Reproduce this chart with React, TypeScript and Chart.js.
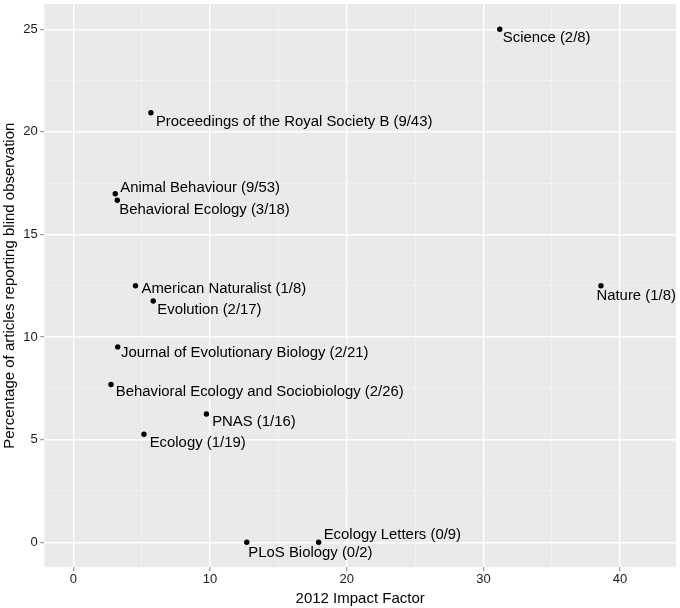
import React, { useRef, useEffect } from 'react';
import { Chart, registerables } from 'chart.js';

Chart.register(...registerables);

const journals = [
  'Science', 'Nature', 'Proceedings of the Royal Society B', 'Animal Behaviour',
  'Behavioral Ecology', 'American Naturalist', 'Evolution', 'Journal of Evolutionary Biology',
  'Behavioral Ecology and Sociobiology', 'PNAS', 'Ecology', 'PLoS Biology', 'Ecology Letters',
];
const counts = ['2/8', '1/8', '9/43', '9/53', '3/18', '1/8', '2/17', '2/21', '2/26', '1/16', '1/19', '0/2', '0/9'];
const impactFactor = [31.2, 38.6, 5.68, 3.07, 3.22, 4.55, 5.85, 3.25, 2.76, 9.74, 5.17, 12.69, 17.95];
const percentBlind = [25.0, 12.5, 20.93, 16.98, 16.67, 12.5, 11.76, 9.52, 7.69, 6.25, 5.26, 0, 0];

const xTicks = [0, 5, 10, 15, 20, 25, 30, 35, 40];
const yTicks = [0, 2.5, 5, 7.5, 10, 12.5, 15, 17.5, 20, 22.5, 25];

// label offsets from the point, in px (text baseline-left)
const labelOffsets: [number, number][] = [
  [3, 12.5], [-4.5, 14.3], [5, 13.4], [5, -1.5], [2, 13.6], [6, 7], [4, 12.6],
  [3.3, 10.5], [4.7, 12], [5.7, 12.4], [5.7, 12.4], [1.6, 14.4], [5, -3.3],
];

const FONT = '"Liberation Sans", Arial, sans-serif';
const PANEL_BG = '#EAEAEA';

const panelBackground = {
  id: 'panelBackground',
  beforeDraw(chart: any) {
    const { ctx, chartArea } = chart;
    ctx.save();
    ctx.fillStyle = PANEL_BG;
    ctx.fillRect(chartArea.left, chartArea.top, chartArea.right - chartArea.left, chartArea.bottom - chartArea.top);
    ctx.restore();
  },
};

const pointLabels = {
  id: 'pointLabels',
  afterDatasetsDraw(chart: any) {
    const { ctx } = chart;
    const meta = chart.getDatasetMeta(0);
    ctx.save();
    ctx.font = `14.9px ${FONT}`;
    ctx.fillStyle = '#000';
    ctx.textAlign = 'left';
    ctx.textBaseline = 'alphabetic';
    meta.data.forEach((el: any, i: number) => {
      const [dx, dy] = labelOffsets[i];
      ctx.fillText(`${journals[i]} (${counts[i]})`, el.x + dx, el.y + dy);
    });
    ctx.restore();
  },
};

const isMajorX = (v: number) => v % 10 === 0;
const isMajorY = (v: number) => v % 5 === 0;

const App = () => {
  const canvasRef = useRef<any>(null);
  const chartRef = useRef<any>(null);

  useEffect(() => {
    if (canvasRef.current) {
      const ctx = canvasRef.current.getContext('2d');
      if (chartRef.current) {
        chartRef.current.destroy();
      }
      chartRef.current = new Chart(ctx, {
        type: 'scatter',
        data: {
          datasets: [{
            data: impactFactor.map((x, i) => ({ x, y: percentBlind[i] })),
            backgroundColor: '#000',
            borderWidth: 0,
            pointRadius: 2.7,
            pointHoverRadius: 2.7,
          }],
        },
        options: {
          responsive: false,
          animation: false,
          devicePixelRatio: 1,
          layout: { padding: { left: 0, top: 4, right: 4, bottom: 0 } },
          plugins: { legend: { display: false }, tooltip: { enabled: false } },
          scales: {
            x: {
              type: 'linear',
              min: -2.12,
              max: 44.09,
              afterBuildTicks: (scale: any) => { scale.ticks = xTicks.map(v => ({ value: v })); },
              afterFit: (scale: any) => {
                scale.height = 40.7;
                scale.paddingLeft = 0;
                scale.paddingRight = 0;
              },
              border: { display: false },
              grid: {
                color: (c: any) => (c.tick && isMajorX(c.tick.value) ? '#FFFFFF' : '#F4F4F4'),
                lineWidth: (c: any) => (c.tick && isMajorX(c.tick.value) ? 1.4 : 0.7),
                tickColor: (c: any) => (c.tick && isMajorX(c.tick.value) ? '#7F7F7F' : 'rgba(0,0,0,0)'),
                tickWidth: 1,
                tickLength: 4,
              },
              ticks: {
                autoSkip: false,
                maxRotation: 0,
                padding: 0.5,
                color: '#1a1a1a',
                font: { family: FONT, size: 13 },
                callback: (v: any) => (isMajorX(Number(v)) ? String(v) : ''),
              },
              title: {
                display: true,
                text: '2012 Impact Factor',
                color: '#000',
                font: { family: FONT, size: 15, lineHeight: 1.2 },
                padding: { top: 4.5, bottom: 0 },
              },
            },
            y: {
              type: 'linear',
              min: -1.22,
              max: 26.23,
              afterBuildTicks: (scale: any) => { scale.ticks = yTicks.map(v => ({ value: v })); },
              afterFit: (scale: any) => {
                scale.width = 44.3;
                scale.paddingTop = 0;
                scale.paddingBottom = 0;
              },
              border: { display: false },
              grid: {
                color: (c: any) => (c.tick && isMajorY(c.tick.value) ? '#FFFFFF' : '#F4F4F4'),
                lineWidth: (c: any) => (c.tick && isMajorY(c.tick.value) ? 1.4 : 0.7),
                tickColor: (c: any) => (c.tick && isMajorY(c.tick.value) ? '#7F7F7F' : 'rgba(0,0,0,0)'),
                tickWidth: 1,
                tickLength: 4,
              },
              ticks: {
                autoSkip: false,
                padding: 2.5,
                color: '#1a1a1a',
                font: { family: FONT, size: 13 },
                callback: (v: any) => (isMajorY(Number(v)) ? String(v) : ''),
              },
              title: {
                display: true,
                text: 'Percentage of articles reporting blind observation',
                color: '#000',
                font: { family: FONT, size: 15, lineHeight: 1.2 },
                padding: { top: 0.5, bottom: 0 },
              },
            },
          },
        },
        plugins: [panelBackground, pointLabels],
      });
    }
    return () => {
      if (chartRef.current) {
        chartRef.current.destroy();
        chartRef.current = null;
      }
    };
  }, []);

  return (
    <div style={{ position: 'absolute', left: 0, top: 0, width: 680, height: 608, background: '#fff' }}>
      <canvas ref={canvasRef} width={680} height={608} style={{ width: '680px', height: '608px' }} />
    </div>
  );
};

export default App;
